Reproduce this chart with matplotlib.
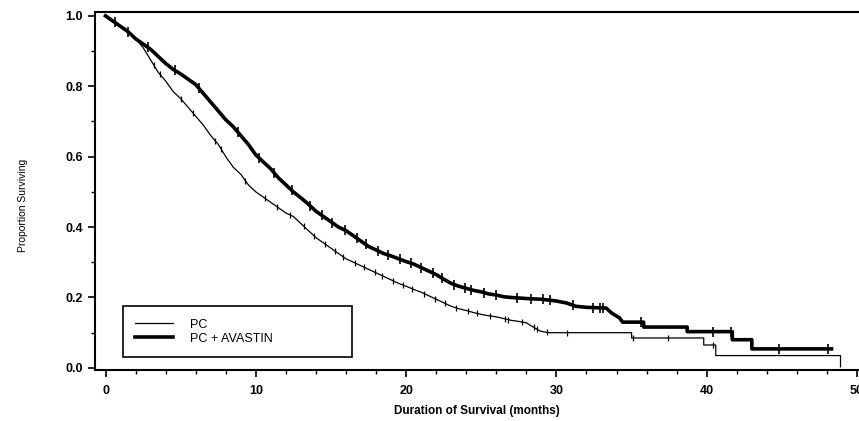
import matplotlib.pyplot as plt
import numpy as np

plt.rcParams['font.family'] = ['Liberation Sans', 'DejaVu Sans']

# Kaplan-Meier curves (months, proportion surviving).
# Dense early part traced as a line, sparse late part given with its step corners.
pc_t = [0, 0.5, 1.0, 1.5, 2.0, 2.5, 3.0, 3.5, 4.0, 4.5, 5.0, 5.5, 6.0, 6.5, 7.0,
        7.5, 8.0, 8.5, 9.0, 9.5, 10.0, 10.5, 11.0, 11.5, 12.0, 12.5, 13.0, 13.5,
        14.0, 14.5, 15.0, 15.5, 16.0, 16.5, 17.0, 17.5, 18.0, 18.5, 19.0, 19.5,
        20.0, 20.5, 21.0, 21.5, 22.0, 22.5, 23.0, 23.5, 24.0, 24.5, 25.0, 25.5,
        26.0, 26.5, 27.0, 27.5, 28.0, 28.3, 28.5, 28.9, 29.2, 29.5,
        35.0, 35.0, 39.8, 39.8, 40.6, 40.6, 48.9, 48.9]
pc_s = [1.0, 0.985, 0.97, 0.955, 0.935, 0.91, 0.875, 0.84, 0.815, 0.785, 0.765,
        0.74, 0.715, 0.69, 0.66, 0.635, 0.6, 0.57, 0.55, 0.52, 0.5, 0.485, 0.47,
        0.455, 0.44, 0.43, 0.41, 0.39, 0.37, 0.355, 0.34, 0.325, 0.31, 0.3, 0.29,
        0.28, 0.27, 0.26, 0.25, 0.24, 0.232, 0.223, 0.215, 0.205, 0.195, 0.185,
        0.175, 0.168, 0.163, 0.157, 0.152, 0.148, 0.145, 0.14, 0.135, 0.132, 0.128,
        0.12, 0.115, 0.105, 0.102, 0.1,
        0.1, 0.085, 0.085, 0.065, 0.065, 0.035, 0.035, 0.003]

av_t = [0, 0.5, 1.0, 1.5, 2.0, 2.5, 3.0, 3.5, 4.0, 4.5, 5.0, 5.5, 6.0, 6.5, 7.0,
        7.5, 8.0, 8.5, 9.0, 9.5, 10.0, 10.5, 11.0, 11.5, 12.0, 12.5, 13.0, 13.5,
        14.0, 14.5, 15.0, 15.5, 16.0, 16.5, 17.0, 17.5, 18.0, 18.5, 19.0, 19.5,
        20.0, 20.5, 21.0, 21.5, 22.0, 22.5, 23.0, 23.5, 24.0, 24.5, 25.0, 25.5,
        26.0, 26.5, 27.0, 28.0, 29.0, 30.0, 30.7, 31.3, 32.0, 33.3, 33.7, 34.2,
        34.4, 35.8, 35.8, 38.7, 38.7, 41.7, 41.7, 43.0, 43.0, 48.3]
av_s = [1.0, 0.985, 0.97, 0.955, 0.935, 0.92, 0.905, 0.885, 0.865, 0.848, 0.835,
        0.82, 0.805, 0.78, 0.755, 0.73, 0.705, 0.685, 0.66, 0.635, 0.605, 0.585,
        0.565, 0.54, 0.52, 0.5, 0.483, 0.465, 0.445, 0.43, 0.415, 0.4, 0.39,
        0.375, 0.36, 0.345, 0.335, 0.325, 0.318, 0.31, 0.302, 0.295, 0.285,
        0.275, 0.265, 0.252, 0.24, 0.232, 0.226, 0.22, 0.216, 0.21, 0.207, 0.202,
        0.2, 0.197, 0.195, 0.19, 0.184, 0.175, 0.172, 0.17, 0.155, 0.142,
        0.13, 0.13, 0.116, 0.116, 0.103, 0.103, 0.08, 0.08, 0.054, 0.054]

# censored observations (months)
pc_cens = [3.2, 3.6, 5.0, 5.8, 7.3, 7.7, 9.3, 10.6, 11.4, 12.3, 13.2, 13.9, 14.6,
           15.3, 15.8, 16.6, 17.2, 17.9, 18.4, 19.1, 19.8, 20.4, 21.2, 21.9,
           22.6, 23.3, 24.1, 24.7, 25.6, 26.6, 26.8, 27.7, 28.5, 28.7, 29.4,
           30.7, 35.1, 37.4, 40.4]
av_cens = [0.6, 1.5, 2.8, 4.6, 6.2, 8.8, 10.2, 11.2, 12.4, 13.6, 14.4, 15.1, 15.9,
           16.7, 17.3, 18.1, 18.8, 19.6, 20.3, 21.0, 21.8, 22.4, 23.2, 23.9,
           24.3, 25.2, 26.0, 27.4, 28.3, 29.1, 29.6, 31.1, 32.4, 32.9, 33.1,
           35.6, 40.4, 41.6, 44.8, 48.1]

fig = plt.figure(figsize=(8.59, 4.21), dpi=100)
ax = fig.add_axes([95 / 859, 51 / 421, 764 / 859, 358 / 421])


def surv_at(times, surv, t):
    # value just before any drop at t (right-continuous curve)
    t = np.asarray(t, dtype=float)
    return np.interp(t - 1e-6, times, surv)


pc_line, = ax.plot(pc_t, pc_s, color='black', lw=0.9)
ax.plot(pc_cens, surv_at(pc_t, pc_s, pc_cens), ls='none', marker='|',
        color='black', ms=5, mew=0.9)
av_line, = ax.plot(av_t, av_s, color='black', lw=2.6)
ax.plot(av_cens, surv_at(av_t, av_s, av_cens), ls='none', marker='|',
        color='black', ms=7, mew=1.2)

ax.set_xlim(-0.7, 50.13)
ax.set_ylim(-0.006, 1.011)
ax.set_xticks([0, 10, 20, 30, 40, 50])
ax.set_xticks(np.arange(0, 51, 2), minor=True)
ax.set_yticks([0.0, 0.2, 0.4, 0.6, 0.8, 1.0])
ax.set_yticks(np.arange(0, 1.01, 0.1), minor=True)
ax.set_yticklabels(['0.0', '0.2', '0.4', '0.6', '0.8', '1.0'])
ax.tick_params(which='major', length=5, width=1.2, direction='out',
               labelsize=9)
ax.tick_params(which='minor', length=3, width=1.0, direction='out')
for lbl in ax.get_xticklabels() + ax.get_yticklabels():
    lbl.set_fontweight('bold')
ax.tick_params(axis='x', pad=6)
for sp in ax.spines.values():
    sp.set_linewidth(1.5)
ax.spines['right'].set_visible(False)

ax.set_xlabel('Duration of Survival (months)', fontsize=8.5, fontweight='bold')
ax.xaxis.set_label_coords(0.5, -0.098)
ax.set_ylabel('Proportion Surviving', fontsize=7.5)
ax.yaxis.set_label_coords(-0.088, 0.46)

leg = ax.legend([pc_line, av_line], ['PC', 'PC + AVASTIN'],
                loc='lower left', bbox_to_anchor=(0.0366, 0.036, 0.3, 0.143),
                mode='expand', fancybox=False, edgecolor='black',
                framealpha=1, handlelength=3.0, handletextpad=1.4,
                borderpad=1.0, labelspacing=0.15, borderaxespad=0,
                prop={'size': 9})
leg.get_frame().set_linewidth(1.2)

fig.savefig('out.png', dpi=100)
